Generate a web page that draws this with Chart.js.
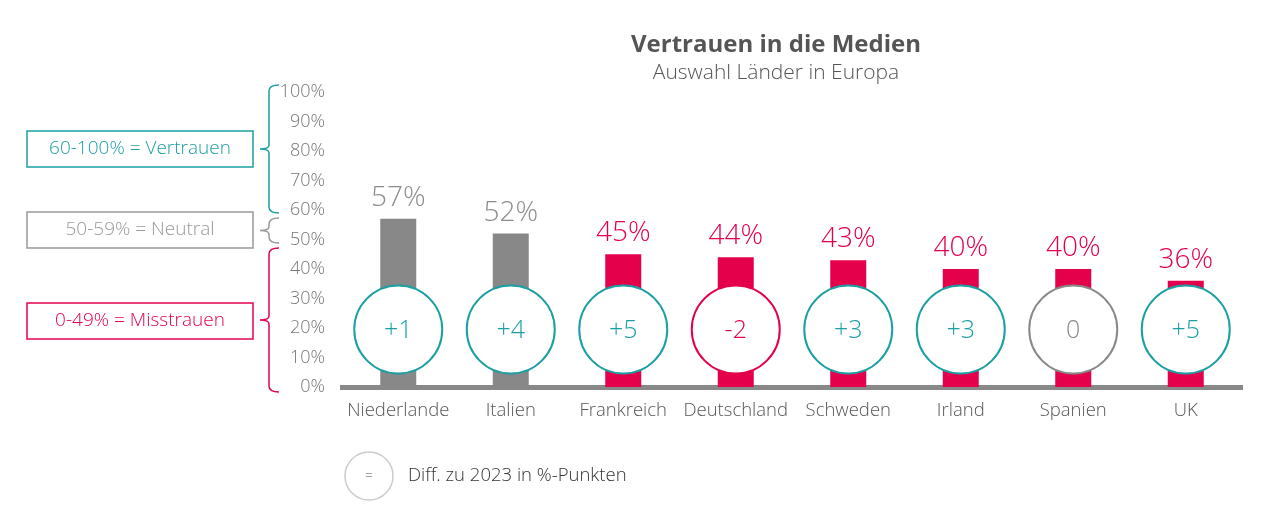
<!DOCTYPE html>
<html>
<head>
<meta charset="utf-8">
<script src="https://cdn.jsdelivr.net/npm/chart.js@4"></script>
<style>
  html, body { margin: 0; padding: 0; background: #fff; }
  #wrap { width: 1280px; height: 528px; }
</style>
</head>
<body>
<div id="wrap"><canvas id="grafico"></canvas></div>
<script>
'use strict';
// DADOS
const laender = ['Niederlande', 'Italien', 'Frankreich', 'Deutschland', 'Schweden', 'Irland', 'Spanien', 'UK'];
const vertrauen = [57, 52, 45, 44, 43, 40, 40, 36];
const diff = [1, 4, 5, -2, 3, 3, 0, 5];
const yTicks = [0, 10, 20, 30, 40, 50, 60, 70, 80, 90, 100];

const TEAL = '#1b9fa3';
const PINK = '#e4004b';
const GREY = '#888888';
const FONT = '"Open Sans", Lato, sans-serif';

const barColor = (v) => v >= 50 ? GREY : PINK;
const diffColor = (d) => d > 0 ? TEAL : (d < 0 ? PINK : GREY);
const diffText = (d) => d > 0 ? '+' + d : String(d);

// desenho extra: titulo, rotulos, circulos, caixas, legenda
const extras = {
    id: 'extras',
    afterDatasetsDraw(chart) {
        const {ctx, scales: {y}} = chart;
        const bars = chart.getDatasetMeta(0).data;
        ctx.save();

        // rotulos de valor
        ctx.textAlign = 'center';
        ctx.textBaseline = 'alphabetic';
        ctx.font = '300 28px ' + FONT;
        bars.forEach((bar, i) => {
            ctx.fillStyle = vertrauen[i] >= 50 ? '#8c8c8c' : PINK;
            ctx.fillText(vertrauen[i] + '%', bar.x, bar.y - 13);
        });

        // circulos com diferenca
        const cy = y.getPixelForValue(19.5);
        bars.forEach((bar, i) => {
            const c = diffColor(diff[i]);
            ctx.beginPath();
            ctx.arc(bar.x, cy, 44, 0, Math.PI * 2);
            ctx.fillStyle = '#fff';
            ctx.fill();
            ctx.lineWidth = 2;
            ctx.strokeStyle = c;
            ctx.stroke();
            ctx.fillStyle = c;
            ctx.font = '300 25px ' + FONT;
            ctx.textBaseline = 'middle';
            ctx.fillText(diffText(diff[i]), bar.x, cy + 1);
        });

        // titulo
        ctx.fillStyle = '#555';
        ctx.font = 'bold 24px ' + FONT;
        ctx.textBaseline = 'middle';
        ctx.fillText('Vertrauen in die Medien', 776, 45);
        ctx.font = '300 21px ' + FONT;
        ctx.fillText('Auswahl Länder in Europa', 776, 73);

        // caixas e chaves
        const grupos = [
            {txt: '60-100% = Vertrauen', c: TEAL, top: 85, bot: 213, box: 131},
            {txt: '50-59% = Neutral', c: '#999', top: 218, bot: 243, box: 212},
            {txt: '0-49% = Misstrauen', c: PINK, top: 248, bot: 392, box: 303}
        ];
        grupos.forEach(g => {
            ctx.strokeStyle = g.c;
            ctx.lineWidth = 1.5;
            ctx.strokeRect(27, g.box, 226, 36);
            ctx.fillStyle = g.c;
            ctx.font = '300 19px ' + FONT;
            ctx.fillText(g.txt, 140, g.box + 18);
            const mid = (g.top + g.bot) / 2;
            ctx.beginPath();
            ctx.moveTo(279, g.top);
            ctx.quadraticCurveTo(269, g.top, 269, g.top + 6);
            ctx.lineTo(269, mid - 4);
            ctx.quadraticCurveTo(269, mid, 260, mid);
            ctx.quadraticCurveTo(269, mid, 269, mid + 4);
            ctx.lineTo(269, g.bot - 6);
            ctx.quadraticCurveTo(269, g.bot, 279, g.bot);
            ctx.stroke();
        });

        // legenda
        ctx.beginPath();
        ctx.arc(369, 476, 24, 0, Math.PI * 2);
        ctx.strokeStyle = '#cccccc';
        ctx.lineWidth = 1.5;
        ctx.stroke();
        ctx.fillStyle = '#555';
        ctx.font = '300 14px ' + FONT;
        ctx.fillText('=', 369, 476);
        ctx.textAlign = 'left';
        ctx.fillStyle = '#333';
        ctx.font = '300 18.5px ' + FONT;
        ctx.fillText('Diff. zu 2023 in %-Punkten', 408, 476);

        ctx.restore();
    }
};

const ctx = document.getElementById('grafico').getContext('2d');
const grafico = new Chart(ctx, {
    type: 'bar',
    plugins: [extras],
    data: {
        labels: laender,
        datasets: [{
            data: vertrauen,
            backgroundColor: vertrauen.map(barColor),
            borderWidth: 0,
            categoryPercentage: 1,
            barPercentage: 0.32
        }]
    },
    options: {
        responsive: true,
        maintainAspectRatio: false,
        animation: false,
        layout: {padding: {left: 270, right: 38, top: 92, bottom: 0}},
        plugins: {
            legend: {display: false},
            tooltip: {enabled: false}
        },
        scales: {
            x: {
                grid: {display: false, drawTicks: false},
                border: {display: true, color: '#888', width: 5},
                ticks: {color: '#555', font: {family: FONT, size: 18.5, weight: 300}, padding: 13},
                afterFit(scale) { scale.height = 141; }
            },
            y: {
                min: 0,
                max: 100,
                afterBuildTicks(scale) { scale.ticks = yTicks.map(v => ({value: v})); },
                grid: {display: false, drawTicks: false},
                border: {display: false},
                ticks: {
                    color: '#777',
                    font: {family: FONT, size: 18, weight: 300},
                    padding: 17,
                    callback: (v) => v + '%'
                },
                afterFit(scale) { scale.width = 72; }
            }
        }
    }
});
</script>
</body>
</html>
